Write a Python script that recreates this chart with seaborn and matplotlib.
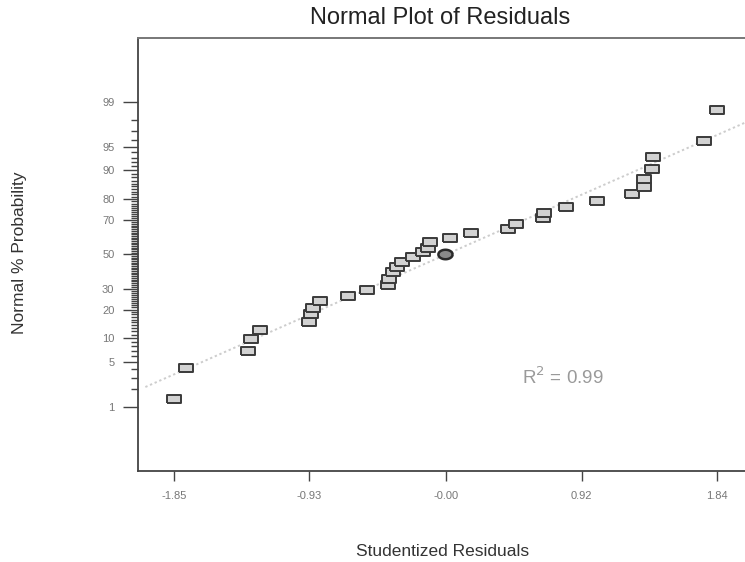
import numpy as np
import pandas as pd
import matplotlib
matplotlib.use("Agg")
import matplotlib.pyplot as plt
import seaborn as sns
from statistics import NormalDist
from matplotlib.ticker import FixedLocator, FixedFormatter, NullFormatter

# ---------------- data ----------------
residuals = [-1.85, -1.768, -1.347, -1.327, -1.266, -0.933, -0.919, -0.906,
             -0.858, -0.668, -0.539, -0.396, -0.389, -0.362, -0.335, -0.301,
             -0.226, -0.158, -0.124, -0.111, 0.025, 0.168, 0.419, 0.474,
             0.657, 0.664, 0.813, 1.024, 1.262, 1.344, 1.344, 1.398, 1.405,
             1.751, 1.84]
probabilities = [1.39, 4.17, 6.94, 9.72, 12.5, 15.28, 18.06, 20.83,
                 23.61, 26.39, 29.17, 31.94, 35.6, 39.1, 42.1, 45.1,
                 48.2, 51.2, 53.7, 57.3, 59.72, 62.5, 65.28, 68.06,
                 70.83, 73.61, 76.39, 79.17, 81.94, 84.72, 87.5, 90.28, 93.06,
                 95.83, 98.61]
highlight_residual = [-0.01]
highlight_probability = [50.0]

fit_slope = 0.99      # z-score per studentized residual
fit_intercept = 0.0

x_ticks = [-1.85, -0.93, 0.0, 0.92, 1.84]
x_tick_labels = ["-1.85", "-0.93", "-0.00", "0.92", "1.84"]
y_ticks = [1, 5, 10, 20, 30, 50, 70, 80, 90, 95, 99]
y_tick_labels = ["1", "5", "10", "20", "30", "50", "70", "80", "90", "95", "99"]
y_minor_ticks = list(range(1, 100))
r2_text = "R$^2$ = 0.99"

# ---------------- figure ----------------
sns.set_theme(style="white")
plt.rcParams["font.family"] = ["Liberation Sans", "DejaVu Sans"]

W, H = 745, 562
fig = plt.figure(figsize=(W / 100, H / 100), dpi=100)
left, right, bottom, top = 138, 754, 470.7, 38
ax = fig.add_axes([left / W, 1 - bottom / H, (right - left) / W, (bottom - top) / H])

nd = NormalDist()
_ppf = np.vectorize(lambda p: nd.inv_cdf(min(max(p / 100.0, 1e-12), 1 - 1e-12)),
                    otypes=[float])
_cdf = np.vectorize(lambda z: nd.cdf(z) * 100.0, otypes=[float])


def fwd(p):
    p = np.asarray(p, dtype=float)
    if p.size == 0:
        return p
    return _ppf(p)


def inv(z):
    z = np.asarray(z, dtype=float)
    if z.size == 0:
        return z
    return _cdf(z)


ax.set_yscale("function", functions=(fwd, inv))

xlim = (-2.094, 2.09)
zlim = 3.30

# fit line
fx = np.linspace(xlim[0] + 0.05, xlim[1], 50)
fp = np.array([nd.cdf(fit_intercept + fit_slope * v) * 100 for v in fx])
sns.lineplot(x=fx, y=fp, ax=ax, color="#cdcdcd", linestyle=(0, (1.2, 1.4)),
             linewidth=1.4, zorder=1, sort=False)

# square markers
rect = [(-1.5, -1), (1.5, -1), (1.5, 1), (-1.5, 1), (-1.5, -1)]
df = pd.DataFrame({"res": residuals, "prob": probabilities})
sns.scatterplot(data=df, x="res", y="prob", ax=ax, marker=rect, s=92,
                color="#d2d2d2", edgecolor="#3a3a3a", linewidth=1.4, zorder=3)

# highlighted (ellipse) point
ell = [(1.5 * np.cos(t), 1.0 * np.sin(t)) for t in np.linspace(0, 2 * np.pi, 40)]
dh = pd.DataFrame({"res": highlight_residual, "prob": highlight_probability})
sns.scatterplot(data=dh, x="res", y="prob", ax=ax, marker=ell, s=105,
                color="#8a8a8a", edgecolor="#2a2a2a", linewidth=1.8, zorder=4)

ax.set_xlim(*xlim)
ax.set_ylim(nd.cdf(-zlim) * 100, nd.cdf(zlim) * 100)

# ticks
ax.xaxis.set_major_locator(FixedLocator(x_ticks))
ax.xaxis.set_major_formatter(FixedFormatter(x_tick_labels))
ax.yaxis.set_major_locator(FixedLocator(y_ticks))
ax.yaxis.set_major_formatter(FixedFormatter(y_tick_labels))
ax.yaxis.set_minor_locator(FixedLocator(y_minor_ticks))
ax.yaxis.set_minor_formatter(NullFormatter())
ax.xaxis.set_minor_locator(FixedLocator([]))

ax.tick_params(axis="x", which="major", direction="out", length=7.5, width=1.0,
               color="#444444", labelsize=8, labelcolor="#777777", pad=7,
               bottom=True)
ax.tick_params(axis="y", which="major", direction="out", length=11, width=1.0,
               color="#444444", labelsize=8, labelcolor="#777777", pad=6,
               left=True)
ax.tick_params(axis="y", which="minor", direction="out", length=5, width=1.0,
               color="#444444", left=True)

for side in ["left", "bottom"]:
    ax.spines[side].set_color("#444444")
    ax.spines[side].set_linewidth(1.3)
ax.spines["top"].set_color("#777777")
ax.spines["top"].set_linewidth(1.4)
ax.spines["right"].set_color("#777777")
ax.grid(False)
ax.set_xlabel("")
ax.set_ylabel("")

fig.text(522 / W, 1 - 377 / H, r2_text, fontsize=13.5, color="#9a9a9a",
         ha="left", va="center")

fig.text(440 / W, 1 - 18 / H, "Normal Plot of Residuals", fontsize=17,
         color="#222222", ha="center", va="center")
fig.text(443 / W, 1 - 551 / H, "Studentized Residuals", fontsize=12.5,
         color="#333333", ha="center", va="center")
fig.text(20 / W, 1 - 253 / H, "Normal % Probability", fontsize=12.5,
         color="#333333", ha="center", va="center", rotation=90)

fig.savefig("out.png", dpi=100)
